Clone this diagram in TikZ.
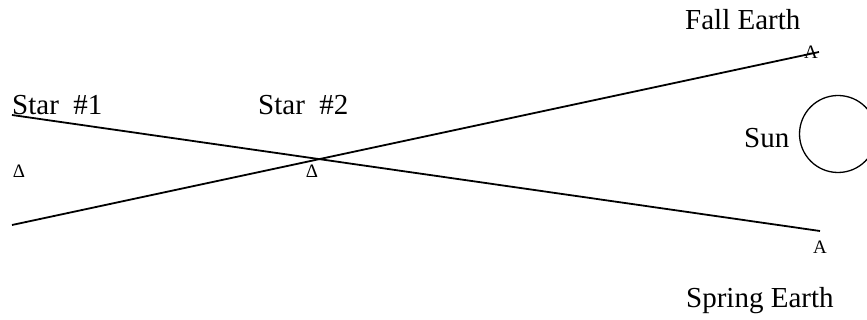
\documentclass[tikz,border=0pt]{standalone}
\usepackage{fontspec}
\setmainfont{Liberation Serif}
\begin{document}
\begin{tikzpicture}[x=1pt,y=-1pt,
  label/.style={inner sep=0pt,anchor=base west,font=\fontsize{29}{31}\selectfont},
  smallmark/.style={inner sep=0pt,font=\fontsize{19}{20}\selectfont},
  sight/.style={line width=1.8pt}]
\useasboundingbox (0,0) rectangle (867,320);

% ends of the two sight lines
\coordinate (s1) at (12,115);
\coordinate (s2) at (12,225);
\coordinate (fall) at (819,52);
\coordinate (spring) at (820,231);

\draw[sight] (s1) -- (spring);
\draw[sight] (s2) -- (fall);

% text labels
\node[label] (star1) at (12,115) {Star\ \ \#1};
\node[label] (star2) at (258,115) {Star\ \ \#2};
\node[label] (fallt) at (685,30) {Fall Earth};
\node[label] (springt) at (686,307) {Spring Earth};
\node[label] (sunt) at (744,148) {Sun};

% small markers
\node[smallmark] (d1) at (19,171) {Δ};
\node[smallmark] (d2) at (312,171) {Δ};
\node[smallmark] (a1) at (811,52) {A};
\node[smallmark] (a2) at (820,247) {A};

% the sun
\node[draw,circle,line width=1.3pt,minimum size=77pt,inner sep=0pt] (sun) at (838,134) {};
\end{tikzpicture}
\end{document}
